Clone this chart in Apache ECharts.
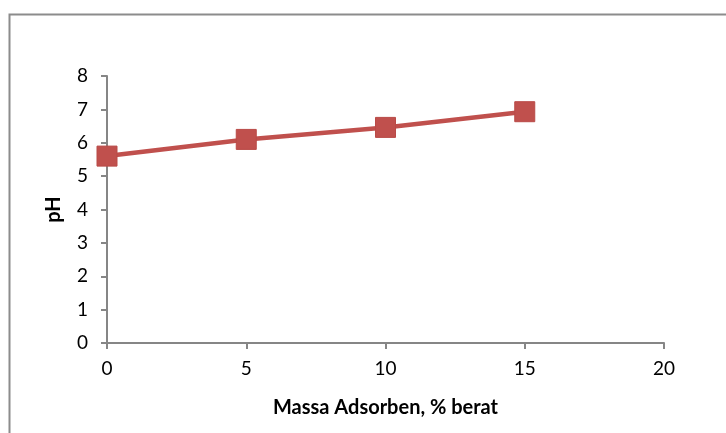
<!DOCTYPE html>
<html>
<head>
<meta charset="utf-8">
<script src="https://cdn.jsdelivr.net/npm/echarts@6/dist/echarts.min.js"></script>
<style>
  html, body { margin: 0; padding: 0; background: #fff; }
  #chart { width: 726px; height: 433px; }
</style>
</head>
<body>
<div id="chart"></div>
<script>
// massa adsorben (% berat) dan pH
var massa = [0, 5, 10, 15]
var ph = [5.6, 6.1, 6.46, 6.93]

var chart = echarts.init(document.getElementById('chart'))
var fontFam = 'Lato, Open Sans, sans-serif'

chart.setOption({
  animation: false,
  // bingkai grafik
  graphic: [{
    type: 'rect',
    shape: { x: 9.5, y: 14.5, width: 760, height: 460 },
    style: { fill: 'none', stroke: '#8c8c8c', lineWidth: 2 },
    silent: true
  }],
  grid: { left: 107, right: 62, top: 76, bottom: 90 },
  xAxis: {
    type: 'value',
    min: 0,
    max: 20,
    interval: 5,
    name: 'Massa Adsorben, % berat',
    nameLocation: 'middle',
    nameGap: 55,
    nameTextStyle: { fontFamily: fontFam, fontSize: 20, fontWeight: 'bold', color: '#000' },
    axisLine: { lineStyle: { color: '#868686', width: 2 } },
    axisTick: { show: true, length: 6, lineStyle: { color: '#868686', width: 2 } },
    axisLabel: { fontFamily: fontFam, fontSize: 19, color: '#000', margin: 16 },
    splitLine: { show: false }
  },
  yAxis: {
    type: 'value',
    min: 0,
    max: 8,
    interval: 1,
    name: 'pH',
    nameLocation: 'middle',
    nameGap: 43,
    nameRotate: 90,
    nameTextStyle: { fontFamily: fontFam, fontSize: 20, fontWeight: 'bold', color: '#000' },
    axisLine: { show: true, lineStyle: { color: '#868686', width: 2 } },
    axisTick: { show: true, length: 6, lineStyle: { color: '#868686', width: 2 } },
    axisLabel: { fontFamily: fontFam, fontSize: 19, color: '#000', margin: 19 },
    splitLine: { show: false }
  },
  series: [{
    type: 'line',
    data: massa.map(function (m, i) { return [m, ph[i]] }),
    symbol: 'rect',
    symbolSize: 20,
    itemStyle: { color: '#c0504d', borderColor: '#b94a47', borderWidth: 1 },
    lineStyle: { color: '#c0504d', width: 4.5 }
  }]
})
</script>
</body>
</html>
